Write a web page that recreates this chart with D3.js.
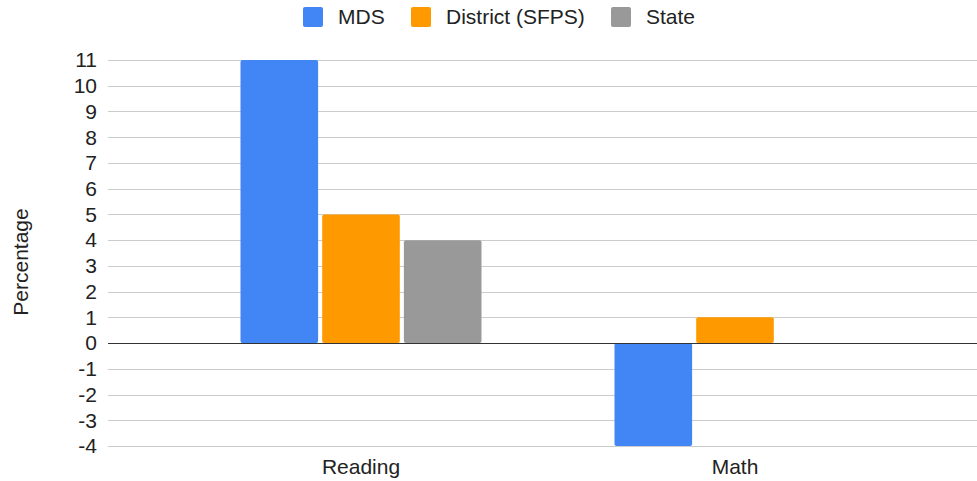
<!DOCTYPE html>
<html lang="en">
<head>
  <meta charset="UTF-8">
  <title>Percentage change</title>
  <script src="https://d3js.org/d3.v7.min.js"></script>
  <style>
    body { margin: 0; background: #fff; }
    svg { display: block; font-family: Arial, "Liberation Sans", sans-serif; }
  </style>
</head>
<body>
  <div id="chart"></div>
  <script>
    const categories = ['Reading', 'Math']
    const seriesNames = ['MDS', 'District (SFPS)', 'State']
    const seriesColors = ['#4285f4', '#ff9900', '#999999']
    const mds = [11, -4]
    const district = [5, 1]
    const state = [4, 0]
    const yTicks = [-4, -3, -2, -1, 0, 1, 2, 3, 4, 5, 6, 7, 8, 9, 10, 11]

    const width = 977
    const height = 481
    const gridLeft = 108
    const gridRight = 977
    const fontSize = 21

    const svg = d3.select('#chart').append('svg')
      .attr('width', width)
      .attr('height', height)

    const y = d3.scaleLinear().domain([-4, 11]).range([446, 60])
    const x = d3.scaleBand().domain(categories).range([174, 922])
    const xInner = d3.scaleBand().domain(seriesNames).range([0, 241]).paddingInner(0.05)
    const groupOffset = (x.bandwidth() - 241) / 2

    // grid
    svg.append('g').selectAll('line')
      .data(yTicks)
      .join('line')
      .attr('x1', gridLeft)
      .attr('x2', gridRight)
      .attr('y1', d => Math.round(y(d)) + 0.5)
      .attr('y2', d => Math.round(y(d)) + 0.5)
      .attr('stroke', d => d === 0 ? '#333' : '#ccc')
      .attr('stroke-width', 1)

    // y labels
    svg.append('g').selectAll('text')
      .data(yTicks)
      .join('text')
      .attr('x', 97)
      .attr('y', d => y(d))
      .attr('dy', '0.35em')
      .attr('text-anchor', 'end')
      .attr('font-size', fontSize)
      .attr('fill', '#222')
      .text(d => d)

    svg.append('text')
      .attr('transform', 'translate(28,262) rotate(-90)')
      .attr('text-anchor', 'middle')
      .attr('font-size', fontSize)
      .attr('fill', '#222')
      .text('Percentage')

    // bars
    const rows = []
    categories.forEach((c, i) => {
      ;[mds, district, state].forEach((s, j) => {
        rows.push({ cat: c, series: seriesNames[j], value: s[i], color: seriesColors[j] })
      })
    })

    svg.append('g').selectAll('rect')
      .data(rows.filter(d => d.value !== 0))
      .join('rect')
      .attr('x', d => x(d.cat) + groupOffset + xInner(d.series))
      .attr('y', d => Math.min(y(d.value), y(0)))
      .attr('width', xInner.bandwidth())
      .attr('height', d => Math.abs(y(d.value) - y(0)))
      .attr('rx', 2)
      .attr('fill', d => d.color)

    // redraw zero line on top
    svg.append('line')
      .attr('x1', gridLeft)
      .attr('x2', gridRight)
      .attr('y1', Math.round(y(0)) + 0.5)
      .attr('y2', Math.round(y(0)) + 0.5)
      .attr('stroke', '#333')

    // x labels
    svg.append('g').selectAll('text')
      .data(categories)
      .join('text')
      .attr('x', d => x(d) + x.bandwidth() / 2)
      .attr('y', 474)
      .attr('text-anchor', 'middle')
      .attr('font-size', fontSize)
      .attr('fill', '#222')
      .text(d => d)

    // legend
    const legendX = [303, 411, 611]
    const legend = svg.append('g').selectAll('g')
      .data(seriesNames)
      .join('g')
      .attr('transform', (d, i) => `translate(${legendX[i]},7)`)
    legend.append('rect')
      .attr('width', 20)
      .attr('height', 20)
      .attr('rx', 2)
      .attr('fill', (d, i) => seriesColors[i])
    legend.append('text')
      .attr('x', 35)
      .attr('y', 10)
      .attr('dy', '0.35em')
      .attr('font-size', fontSize)
      .attr('fill', '#222')
      .text(d => d)
  </script>
</body>
</html>
